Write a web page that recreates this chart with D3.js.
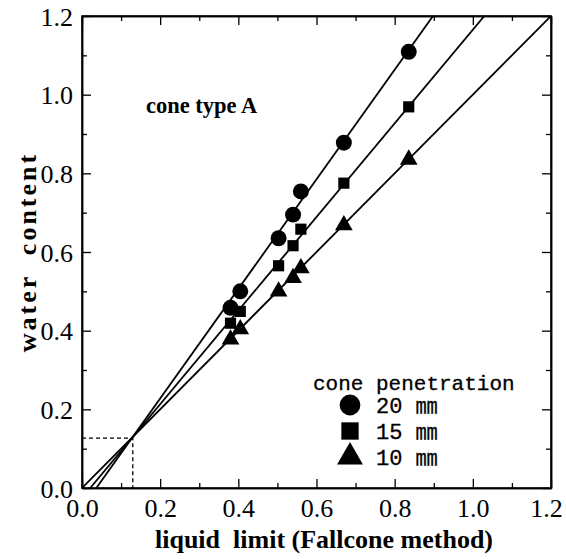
<!DOCTYPE html>
<html>
<head>
<meta charset="utf-8">
<script src="https://cdn.jsdelivr.net/npm/d3@7"></script>
<style>
    body { margin: 0; background: #fff; }
    text { fill: #000; }
</style>
</head>
<body>
<div id="chart"></div>
<script>
    // liquid limit (Fallcone method), same for every series
    const liquidLimit = [0.38, 0.405, 0.503, 0.54, 0.56, 0.67, 0.836];

    // water content per cone penetration
    const water20 = [0.458, 0.50, 0.635, 0.695, 0.754, 0.878, 1.109];
    const water15 = [0.419, 0.449, 0.565, 0.616, 0.658, 0.775, 0.969];
    const water10 = [0.378, 0.404, 0.50, 0.534, 0.559, 0.668, 0.835];

    // fitted lines: slope and intercept
    const fitSlope = [1.393, 1.19, 1.0];
    const fitIntercept = [-0.051, -0.025, 0.0];

    const seriesNames = ["20 ㎜", "15 ㎜", "10 ㎜"];
    const seriesShapes = [d3.symbolCircle, d3.symbolSquare, d3.symbolTriangle];

    // dashed guide at the common intersection
    const crossPoint = [0.13, 0.127];

    const majorTicks = [0, 0.2, 0.4, 0.6, 0.8, 1.0, 1.2];
    const minorTicks = [0.1, 0.3, 0.5, 0.7, 0.9, 1.1];

    const width = 566, height = 559;
    const margin = { left: 82, right: 15, top: 16, bottom: 71 };

    const svg = d3.select("#chart")
        .append("svg")
        .attr("width", width)
        .attr("height", height);

    const x = d3.scaleLinear().domain([0, 1.2]).range([margin.left, width - margin.right]);
    const y = d3.scaleLinear().domain([0, 1.2]).range([height - margin.bottom, margin.top]);

    const serif = "'Liberation Serif', 'Times New Roman', serif";

    svg.append("clipPath")
        .attr("id", "plot-clip")
        .append("rect")
        .attr("x", x(0))
        .attr("y", y(1.2))
        .attr("width", x(1.2) - x(0))
        .attr("height", y(0) - y(1.2));

    // ticks on all four sides, pointing inward
    const axisB = svg.append("g").attr("transform", `translate(0,${y(0)})`);
    axisB.call(d3.axisBottom(x).tickValues(majorTicks).tickSizeInner(-9).tickSizeOuter(0).tickFormat(d3.format(".1f")));
    axisB.append("g").call(d3.axisBottom(x).tickValues(minorTicks).tickSizeInner(-5).tickSizeOuter(0).tickFormat(""));

    const axisT = svg.append("g").attr("transform", `translate(0,${y(1.2)})`);
    axisT.call(d3.axisTop(x).tickValues(majorTicks).tickSizeInner(-9).tickSizeOuter(0).tickFormat(""));
    axisT.append("g").call(d3.axisTop(x).tickValues(minorTicks).tickSizeInner(-5).tickSizeOuter(0).tickFormat(""));

    const axisL = svg.append("g").attr("transform", `translate(${x(0)},0)`);
    axisL.call(d3.axisLeft(y).tickValues(majorTicks).tickSizeInner(-9).tickSizeOuter(0).tickFormat(d3.format(".1f")));
    axisL.append("g").call(d3.axisLeft(y).tickValues(minorTicks).tickSizeInner(-5).tickSizeOuter(0).tickFormat(""));

    const axisR = svg.append("g").attr("transform", `translate(${x(1.2)},0)`);
    axisR.call(d3.axisRight(y).tickValues(majorTicks).tickSizeInner(-9).tickSizeOuter(0).tickFormat(""));
    axisR.append("g").call(d3.axisRight(y).tickValues(minorTicks).tickSizeInner(-5).tickSizeOuter(0).tickFormat(""));

    svg.selectAll(".domain").attr("stroke", "#000").attr("stroke-width", 1.5);
    svg.selectAll(".tick line").attr("stroke", "#000").attr("stroke-width", 1.3);

    axisB.attr("font-family", serif).attr("font-size", 26);
    axisL.attr("font-family", serif).attr("font-size", 26);

    axisB.selectAll(".tick text")
        .attr("x", d => d === 1.2 ? -5 : 0)
        .attr("y", 11)
        .attr("dy", "0.71em")
        .attr("font-family", serif)
        .attr("font-size", 26);

    axisL.selectAll(".tick text")
        .attr("x", -9)
        .attr("dy", "0.35em")
        .attr("font-family", serif)
        .attr("font-size", 26);

    // box outline
    svg.append("rect")
        .attr("x", x(0))
        .attr("y", y(1.2))
        .attr("width", x(1.2) - x(0))
        .attr("height", y(0) - y(1.2))
        .attr("fill", "none")
        .attr("stroke", "#000")
        .attr("stroke-width", 1.5);

    // dashed guide lines
    svg.append("path")
        .attr("d", `M${x(0)},${y(crossPoint[1])}H${x(crossPoint[0])}V${y(0)}`)
        .attr("fill", "none")
        .attr("stroke", "#000")
        .attr("stroke-width", 1.3)
        .attr("stroke-dasharray", "4,3");

    // fitted lines
    const plot = svg.append("g").attr("clip-path", "url(#plot-clip)");
    fitSlope.forEach((m, i) => {
        const b = fitIntercept[i];
        const x0 = Math.max(0, -b / m);
        const x1 = Math.min(1.2, (1.2 - b) / m);
        plot.append("line")
            .attr("x1", x(x0)).attr("y1", y(m * x0 + b))
            .attr("x2", x(x1)).attr("y2", y(m * x1 + b))
            .attr("stroke", "#000")
            .attr("stroke-width", 1.8);
    });

    // markers
    const seriesValues = [water20, water15, water10];
    const markerSize = [200, 125, 135];
    seriesValues.forEach((vals, i) => {
        const sym = d3.symbol().type(seriesShapes[i]).size(markerSize[i]);
        plot.selectAll(".m" + i)
            .data(vals)
            .join("path")
            .attr("class", "m" + i)
            .attr("d", sym)
            .attr("fill", "#000")
            .attr("transform", (d, j) => `translate(${x(liquidLimit[j])},${y(d)})`);
    });

    // annotation
    svg.append("text")
        .attr("x", 146)
        .attr("y", 113)
        .attr("font-family", serif)
        .attr("font-weight", "bold")
        .attr("font-size", 22.5)
        .text("cone type A");

    // legend
    const mono = "'Liberation Mono', 'Courier New', monospace";
    svg.append("text")
        .attr("x", 313)
        .attr("y", 390)
        .attr("font-family", mono)
        .attr("font-size", 21)
        .attr("stroke", "#000")
        .attr("stroke-width", 0.3)
        .text("cone penetration");

    const legendSize = [340, 300, 290];
    seriesNames.forEach((name, i) => {
        const ly = 405 + i * 26;
        svg.append("path")
            .attr("d", d3.symbol().type(seriesShapes[i]).size(legendSize[i])())
            .attr("fill", "#000")
            .attr("transform", `translate(350,${ly})`);
        svg.append("text")
            .attr("x", 376)
            .attr("y", ly + 8)
            .attr("font-family", mono + ", 'Noto Sans CJK JP'")
            .attr("font-size", 22)
            .attr("stroke", "#000")
            .attr("stroke-width", 0.3)
            .text(name);
    });

    // axis titles
    svg.append("text")
        .attr("x", 324)
        .attr("y", 548)
        .attr("text-anchor", "middle")
        .attr("font-family", serif)
        .attr("font-weight", "bold")
        .attr("font-size", 26)
        .style("white-space", "pre")
        .text("liquid  limit (Fallcone method)");

    svg.append("text")
        .attr("transform", `translate(36,${(y(0) + y(1.2)) / 2}) rotate(-90)`)
        .attr("text-anchor", "middle")
        .attr("font-family", serif)
        .attr("font-weight", "bold")
        .attr("font-size", 26)
        .attr("letter-spacing", 3)
        .style("white-space", "pre")
        .text("water  content");
</script>
</body>
</html>
